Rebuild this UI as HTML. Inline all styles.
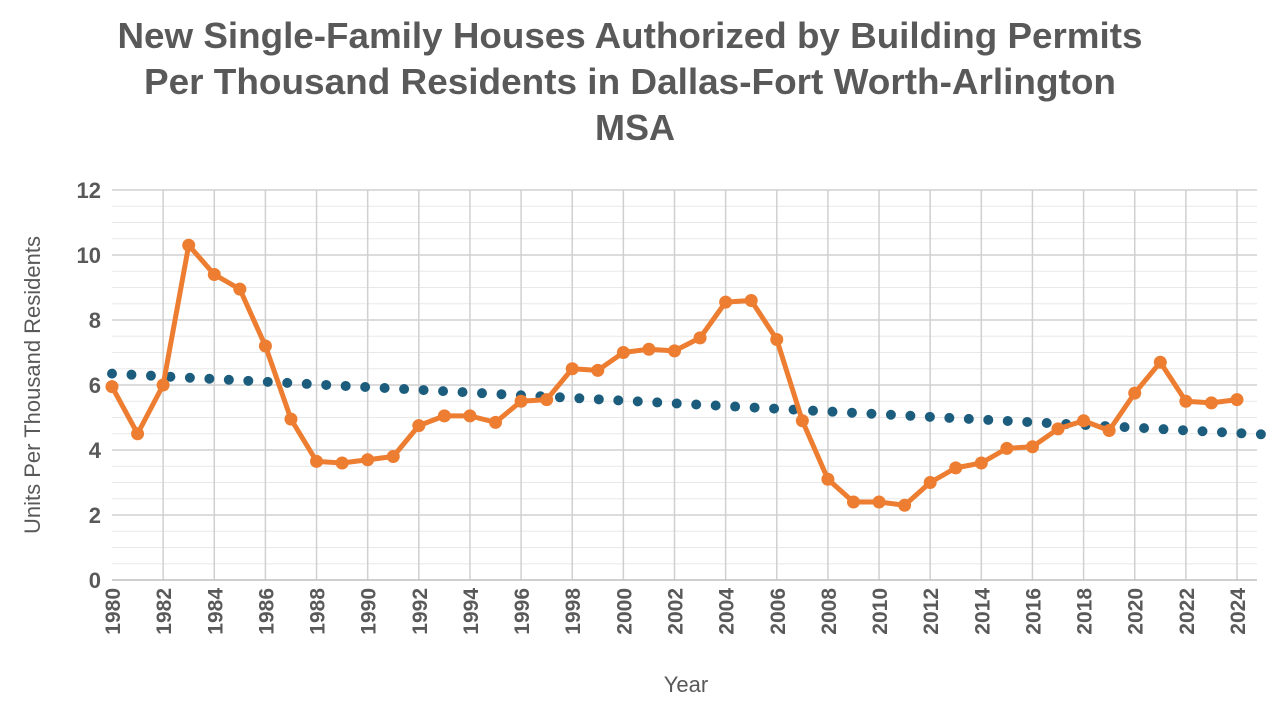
<!DOCTYPE html>
<html><head><meta charset="utf-8"><style>
body{margin:0;background:#fff;width:1269px;height:712px;overflow:hidden;font-family:"Liberation Sans",sans-serif}
</style></head><body>
<svg id="chart" width="1269" height="712" xmlns="http://www.w3.org/2000/svg">
<text font-family="Liberation Sans, sans-serif" font-weight="bold" font-size="36" fill="#595959" text-anchor="middle">
<tspan x="635" y="48" textLength="1025" lengthAdjust="spacingAndGlyphs">New Single-Family Houses Authorized by Building Permits</tspan>
<tspan x="635" y="94" textLength="972" lengthAdjust="spacingAndGlyphs">Per Thousand Residents in Dallas-Fort Worth-Arlington</tspan>
<tspan x="635" y="140">MSA</tspan></text>
<g id="grid"></g><g id="axes"></g><g id="trend"></g><g id="series"></g>
<text x="686" y="692" font-size="22" fill="#595959" text-anchor="middle">Year</text>
<text transform="translate(40,385) rotate(-90)" font-size="22" fill="#595959" text-anchor="middle">Units Per Thousand Residents</text>
</svg>
<script>
const years=[1980,1981,1982,1983,1984,1985,1986,1987,1988,1989,1990,1991,1992,1993,1994,1995,1996,1997,1998,1999,2000,2001,2002,2003,2004,2005,2006,2007,2008,2009,2010,2011,2012,2013,2014,2015,2016,2017,2018,2019,2020,2021,2022,2023,2024];
const values=[5.95,4.5,6.0,10.3,9.4,8.95,7.2,4.95,3.65,3.6,3.7,3.8,4.75,5.05,5.05,4.85,5.5,5.55,6.5,6.45,7.0,7.1,7.05,7.45,8.55,8.6,7.4,4.9,3.1,2.4,2.4,2.3,3.0,3.45,3.6,4.05,4.1,4.65,4.9,4.6,5.75,6.7,5.5,5.45,5.55];
const yTicks=[0,2,4,6,8,10,12];
const trendStart=[1980,6.35];
const trendEnd=[2025,4.48];
const NS="http://www.w3.org/2000/svg";
const x=y=>112+(y-1980)*(1237-112)/44;
const yv=v=>580-v*32.5;
function mk(t,a,p){const e=document.createElementNS(NS,t);for(const k in a)e.setAttribute(k,a[k]);p.appendChild(e);return e;}
const grid=document.getElementById('grid'),axes=document.getElementById('axes');
for(let v=0.5;v<=12;v+=0.5){const l=mk('line',{x1:112,x2:1257,y1:yv(v),y2:yv(v),stroke:v%2===0?'#d0d0d0':'#e8e8e8','stroke-width':v%2===0?1.5:1},grid);

}
for(let yr=1982;yr<=2024;yr+=2){const l=mk('line',{x1:x(yr),x2:x(yr),y1:190,y2:580,stroke:'#d0d0d0','stroke-width':1.5},grid);

}
const ax=mk('line',{x1:112,x2:1257,y1:580,y2:580,stroke:'#bfbfbf','stroke-width':1.5},axes);


yTicks.forEach(v=>{const t=mk('text',{x:101,y:yv(v)+8,'font-size':22,'font-weight':'bold',fill:'#595959','text-anchor':'end'},axes);t.textContent=v;

});
for(let yr=1980;yr<=2024;yr+=2){const t=mk('text',{transform:`translate(${x(yr)+8},${588}) rotate(-90)`,'font-size':21,'font-weight':'bold',fill:'#595959','text-anchor':'end'},axes);t.textContent=yr;

}
const tr=mk('line',{x1:x(trendStart[0]),y1:yv(trendStart[1]),x2:x(trendEnd[0]),y2:yv(trendEnd[1]),stroke:'#1c5d7e','stroke-width':10,'stroke-linecap':'round','stroke-dasharray':'0 19.5'},document.getElementById('trend'));


const s=document.getElementById('series');
const pl=mk('polyline',{points:years.map((yr,i)=>x(yr)+','+yv(values[i])).join(' '),fill:'none',stroke:'#ed7d31','stroke-width':5,'stroke-linejoin':'round'},s);


years.forEach((yr,i)=>{const c=mk('circle',{cx:x(yr),cy:yv(values[i]),r:6.5,fill:'#ed7d31'},s);

});
</script>
</body></html>
